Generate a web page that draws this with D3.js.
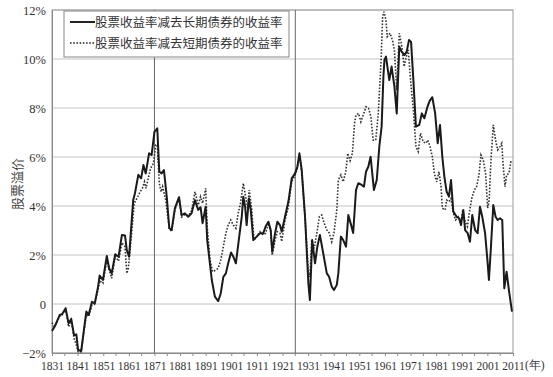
<!DOCTYPE html>
<html>
<head>
<meta charset="utf-8">
<script src="https://cdn.jsdelivr.net/npm/d3@7"></script>
<style>
  html, body { margin: 0; padding: 0; background: #fff; }
  #chart { width: 553px; height: 377px; }
</style>
</head>
<body>
<div id="chart"></div>
<script>
// equity premium: stocks minus long bonds / minus short bills, 1831-2011
const longYears = [1831,1832,1834,1834.9,1836.3,1837.5,1838.5,1839.6,1840.5,1841.2,1842.4,1843.5,1844.4,1845.3,1846.6,1847.7,1849,1849.6,1850.9,1852.4,1853.3,1854.3,1855.7,1857,1858.3,1859.5,1860.2,1861.1,1862.7,1863.4,1864.7,1865.8,1866.7,1867.6,1868.9,1869.9,1871,1872.1,1872.9,1873.8,1874.7,1875.8,1876.8,1877.7,1879,1880.6,1881.6,1882.9,1884.2,1885.5,1886.8,1888.1,1889,1889.8,1891,1891.6,1893.4,1894.6,1895.9,1896.9,1897.9,1898.9,1899.8,1900.9,1901.8,1902.8,1904.1,1905.1,1905.7,1906.4,1907,1907.9,1908.6,1909.6,1910.9,1912.2,1913.5,1914.4,1915.5,1916.4,1917,1918.1,1919,1920,1920.7,1922,1923.3,1924.6,1925.9,1926.8,1927.6,1928.5,1929.8,1931.1,1931.7,1932.6,1933.7,1934.6,1935.6,1936.9,1938.3,1939.2,1940.2,1941.1,1942.2,1942.8,1943.8,1944.7,1945.8,1946.7,1947.8,1948.6,1949.7,1950.6,1951.9,1952.8,1953.6,1954.5,1955.4,1956.7,1957.8,1958.8,1959.7,1960.4,1960.8,1961.4,1962.7,1963.6,1964.7,1965.6,1966.6,1967.5,1968.6,1969.5,1970.4,1971.2,1972.1,1973.1,1974.4,1975.4,1976.4,1977.6,1978.5,1979.5,1980.6,1981.6,1982.5,1983.4,1984.2,1985.1,1986,1986.8,1987.7,1989,1990,1990.7,1991.6,1992.3,1993.3,1994.2,1995.1,1996.2,1997.2,1998.1,1999,2000.1,2001,2001.6,2002.4,2003.3,2004.2,2005,2005.9,2006.8,2007.6,2008.5,2009.4,2010.6];
const longPremium = [-1.10,-0.93,-0.45,-0.42,-0.18,-0.79,-0.61,-1.27,-1.24,-1.88,-1.92,-1.03,-0.31,-0.45,0.09,0.03,0.71,1.16,0.98,1.96,1.46,1.25,2.03,1.93,2.82,2.80,2.20,1.93,4.24,4.52,5.27,5.13,5.67,5.33,6.15,6.08,7.03,7.17,5.40,5.33,5.47,4.38,3.09,3.02,3.91,4.36,3.63,3.70,3.56,3.70,4.24,3.84,3.95,3.30,3.97,2.61,0.98,0.30,0.12,0.44,1.11,1.25,1.66,2.10,1.93,1.66,2.75,3.57,4.38,3.97,3.22,4.31,3.84,2.61,2.75,2.89,2.89,3.16,3.36,3.02,2.13,2.89,3.36,3.22,2.95,3.57,4.18,5.13,5.33,5.60,6.15,5.47,3.57,0.84,0.16,2.61,1.66,2.34,2.82,2.07,1.25,1.11,0.71,0.57,0.78,1.25,2.75,2.61,2.34,3.63,3.22,2.90,4.65,4.93,4.86,4.79,5.40,5.60,6.01,4.65,5.06,6.42,7.24,9.28,9.96,10.10,9.14,9.69,8.87,7.78,10.50,10.30,10.16,10.30,10.78,10.70,9.14,7.24,7.31,7.78,7.58,8.05,8.30,8.44,7.78,6.56,7.31,6.01,5.20,4.58,4.38,5.06,3.77,3.56,3.50,3.22,3.84,3.02,2.89,2.54,3.63,3.02,2.89,3.97,3.56,2.89,1.80,0.98,2.34,4.04,3.56,3.43,3.50,3.43,0.64,1.32,0.57,-0.31];

const shortYears = [1831,1832,1834,1834.9,1836.3,1837.5,1838.5,1839.6,1840.5,1841.2,1842.4,1843.5,1844.4,1845.3,1846.6,1847.7,1849,1849.6,1850.9,1852.4,1853.3,1854.3,1855.7,1857,1858.3,1859.5,1860.2,1860.8,1862.1,1863.1,1864.5,1865.4,1866.3,1867.1,1867.7,1868.6,1869.5,1870.6,1871.5,1872.1,1872.9,1873.6,1874.2,1875.4,1876.8,1877.7,1879,1880.6,1881.6,1882.9,1884.2,1885.5,1886.8,1888.1,1889,1889.8,1891,1891.6,1892.7,1893.7,1895,1895.9,1896.9,1897.9,1898.9,1899.8,1900.8,1901.8,1902.8,1903.7,1904.6,1905.7,1906.6,1907.4,1908,1909,1909.9,1910.9,1912.2,1913.5,1914.4,1915.5,1916.4,1917,1918.1,1919,1920,1920.7,1922,1923.3,1924.6,1925.9,1926.8,1927.6,1928.5,1929.8,1931.1,1931.7,1932.4,1933.4,1934.4,1935.4,1936.3,1937.3,1938.3,1939.3,1940.2,1941.1,1942.2,1942.8,1943.8,1944.7,1945.7,1946.5,1947.4,1948.3,1949.1,1949.7,1950.7,1951.6,1952.5,1953.6,1954.6,1955.5,1956.4,1957.4,1958.4,1959.5,1960.1,1960.6,1961.4,1961.9,1963,1963.9,1964.7,1965.6,1966.6,1967.5,1968.5,1969.2,1970.1,1971,1972.1,1973.1,1974,1974.9,1975.9,1977,1977.7,1978.6,1979.5,1980.3,1981.2,1982.1,1982.9,1983.4,1984.5,1985.1,1986,1986.8,1987.7,1988.6,1989.6,1990.6,1991.4,1992.3,1993.2,1993.9,1994.9,1995.9,1996.8,1997.7,1998.5,1999.4,2000.3,2001.1,2001.7,2002.4,2003.3,2004.2,2005,2005.9,2006.6,2007.2,2007.9,2008.5,2009.4,2010.2,2010.6];
const shortPremium = [-0.76,-0.93,-0.50,-0.45,-0.20,-0.93,-0.65,-1.40,-1.67,-1.95,-1.95,-1.10,-0.45,-0.50,-0.05,0.00,0.60,0.95,0.85,1.85,1.40,1.05,1.95,1.75,2.50,2.34,1.25,1.46,2.89,4.11,4.38,4.58,4.72,4.99,4.72,5.13,5.54,5.74,6.49,6.49,4.93,4.58,4.79,4.24,3.09,2.95,3.85,4.30,3.55,3.65,3.60,3.80,4.58,4.04,4.38,4.11,4.72,3.16,1.80,1.32,1.39,1.46,1.80,2.34,2.89,3.22,3.43,3.22,3.09,3.70,4.11,4.93,4.38,3.91,4.65,3.84,2.61,2.75,2.95,2.82,2.89,3.29,2.95,1.99,2.61,2.95,2.89,2.55,3.43,3.97,5.00,5.25,5.55,6.10,5.40,3.50,1.30,1.11,2.61,2.27,2.89,3.57,3.63,3.29,3.02,2.89,2.54,2.89,3.84,5.06,5.27,4.99,5.40,6.15,5.85,6.15,7.37,7.71,7.78,7.44,7.71,8.05,7.99,7.65,6.69,6.69,7.78,9.96,11.73,11.93,11.59,10.91,11.05,10.78,10.37,8.73,11.05,10.57,9.69,10.03,10.37,9.14,7.92,6.42,6.22,6.97,6.62,6.56,6.69,6.42,6.01,5.33,4.99,5.40,4.79,3.91,3.84,4.24,4.18,4.31,3.70,3.43,3.56,3.29,3.84,3.36,3.16,3.70,4.31,4.65,4.79,5.27,6.08,5.88,5.33,3.91,4.24,5.88,7.31,6.69,6.29,6.42,6.56,5.60,4.79,5.27,5.33,5.81,5.88];

const yTicks = [-2, 0, 2, 4, 6, 8, 10, 12];
const xTicks = d3.range(1831, 2012, 10);
const markerYears = [1871, 1926];
const legendLabels = ['股票收益率减去长期债券的收益率', '股票收益率减去短期债券的收益率'];

(function(){
  const w = 553, h = 377;
  const svg = d3.select('#chart').append('svg').attr('width', w).attr('height', h);

  const x = d3.scaleLinear().domain([1831, 2011]).range([52, 513]);
  const y = d3.scaleLinear().domain([-2, 12]).range([353, 10]);
  const serif = '"Liberation Serif", "DejaVu Serif", serif';
  const cjk = '"Noto Sans CJK SC", sans-serif';

  // grid lines
  svg.append('g').selectAll('line').data(yTicks).enter().append('line')
    .attr('x1', x(1831)).attr('x2', x(2011))
    .attr('y1', d => y(d)).attr('y2', d => y(d))
    .attr('stroke', '#c4c4c4').attr('stroke-width', 1);

  // frame
  svg.append('rect').attr('x', x(1831)).attr('y', y(12))
    .attr('width', x(2011) - x(1831)).attr('height', y(-2) - y(12))
    .attr('fill', 'none').attr('stroke', '#9a9a9a').attr('stroke-width', 1);

  // y axis
  const yAxis = d3.axisLeft(y).tickValues(yTicks).tickSize(0).tickPadding(6)
    .tickFormat(d => d === 0 ? '0' : (d < 0 ? '\u2212' + Math.abs(d) : d) + '%');
  const gy = svg.append('g').attr('transform', `translate(${x(1831)},0)`).call(yAxis);
  gy.select('.domain').attr('stroke', '#8a8a8a');
  gy.selectAll('text').attr('font-family', serif).attr('font-size', '12.5px').attr('fill', '#333');

  // x axis
  const xAxis = d3.axisBottom(x).tickValues(xTicks).tickSize(3).tickPadding(6).tickFormat(d3.format('d'));
  const gx = svg.append('g').attr('transform', `translate(0,${y(-2)})`).call(xAxis);
  gx.select('.domain').attr('stroke', '#8a8a8a');
  gx.selectAll('line').attr('stroke', '#8a8a8a');
  gx.selectAll('text').attr('font-family', serif).attr('font-size', '11.5px').attr('fill', '#333');
  gx.append('g').selectAll('line').data(d3.range(1836, 2011, 10)).enter().append('line')
    .attr('x1', d => x(d)).attr('x2', d => x(d)).attr('y1', 0).attr('y2', 3).attr('stroke', '#8a8a8a');

  svg.append('text').attr('x', 525).attr('y', 369).attr('font-family', serif)
    .attr('font-size', '11.5px').attr('fill', '#333').text('(年)');

  // vertical markers
  svg.append('g').selectAll('line').data(markerYears).enter().append('line')
    .attr('x1', d => x(d)).attr('x2', d => x(d))
    .attr('y1', y(12)).attr('y2', y(-2))
    .attr('stroke', '#666').attr('stroke-width', 1);

  // y title
  svg.append('text').attr('transform', 'translate(22,184) rotate(-90)')
    .attr('text-anchor', 'middle').attr('font-family', cjk).attr('font-size', '13px')
    .attr('fill', '#444').text('股票溢价');

  const line = d3.line().x(d => x(d[0])).y(d => y(d[1]));
  const shortPts = shortYears.map((yr, i) => [yr, shortPremium[i]]);
  const longPts = longYears.map((yr, i) => [yr, longPremium[i]]);

  svg.append('path').datum(shortPts).attr('d', line).attr('fill', 'none')
    .attr('stroke', '#333').attr('stroke-width', 1.6).attr('stroke-dasharray', '1.6,1.6');
  svg.append('path').datum(longPts).attr('d', line).attr('fill', 'none')
    .attr('stroke', '#1a1a1a').attr('stroke-width', 2).attr('stroke-linejoin', 'round');

  // legend
  const lg = svg.append('g');
  lg.append('rect').attr('x', 64).attr('y', 11).attr('width', 225).attr('height', 46)
    .attr('fill', '#fff').attr('stroke', '#888');
  legendLabels.forEach((t, i) => {
    const ly = 22 + i * 21;
    lg.append('line').attr('x1', 70).attr('x2', 95).attr('y1', ly).attr('y2', ly)
      .attr('stroke', '#222').attr('stroke-width', i ? 1.6 : 2)
      .attr('stroke-dasharray', i ? '1.6,1.6' : null);
    lg.append('text').attr('x', 95).attr('y', ly + 4.5).attr('font-family', cjk)
      .attr('font-size', '12.5px').attr('fill', '#333').text(t);
  });
})();
</script>
</body>
</html>
